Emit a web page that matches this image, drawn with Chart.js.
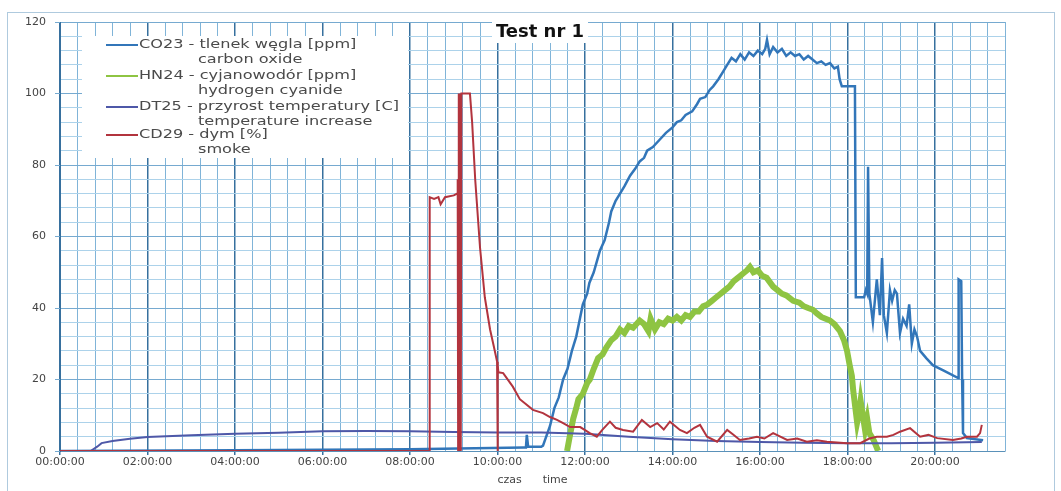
<!DOCTYPE html>
<html>
<head>
<meta charset="utf-8">
<script src="https://cdn.jsdelivr.net/npm/chart.js@4"></script>
<style>
  html, body { margin: 0; padding: 0; background: #fff; }
</style>
</head>
<body>
<canvas id="chart" width="1061" height="491"></canvas>
<script>
// Dane z wykresu: czas w godzinach
const chartTitle = "Test nr 1";
const seriesNames = ["CO23 - tlenek węgla [ppm]", "HN24 - cyjanowodór [ppm]", "DT25 - przyrost temperatury [C]", "CD29 - dym [%]"];
const seriesNamesEn = ["carbon oxide", "hydrogen cyanide", "temperature increase", "smoke"];
const seriesColors = ["rgb(50,118,185)", "rgb(142,196,66)", "rgb(78,88,168)", "rgb(178,52,62)"];
const xTitle = "czas      time";

// CO23 - tlenek węgla
const coSeries = [
  [0, 0], [4, 0.2], [8, 0.5], [10.6, 1], [10.65, 1], [10.67, 4.5], [10.7, 1.2], [11.0, 1.2], [11.04, 1.5],
  [11.2, 7], [11.3, 12], [11.4, 15], [11.5, 20], [11.6, 23], [11.7, 28], [11.8, 32], [11.95, 41], [12.05, 44],
  [12.1, 47], [12.2, 50], [12.34, 56], [12.45, 59], [12.55, 64], [12.6, 67], [12.7, 70], [12.8, 72], [12.9, 74],
  [13.03, 77], [13.15, 79], [13.25, 81], [13.35, 82], [13.42, 84], [13.55, 85], [13.7, 87], [13.85, 89], [14.0, 90.5],
  [14.1, 92], [14.2, 92.5], [14.3, 94], [14.45, 95], [14.56, 97], [14.63, 98.5], [14.75, 99], [14.85, 101], [14.93, 102],
  [15.05, 104], [15.15, 106], [15.25, 108], [15.35, 110], [15.45, 109], [15.55, 111], [15.65, 109.5], [15.75, 111.5],
  [15.85, 110.5], [15.95, 112], [16.05, 111], [16.12, 112.5], [16.16, 115], [16.22, 111], [16.3, 113], [16.4, 111.5],
  [16.5, 112.5], [16.6, 110.5], [16.7, 111.5], [16.8, 110.5], [16.9, 111], [17.0, 109.5], [17.1, 110.5], [17.2, 109.5],
  [17.3, 108.5], [17.4, 109], [17.5, 108], [17.6, 108.5], [17.7, 107], [17.78, 107.5], [17.82, 104], [17.87, 102],
  [18.17, 102], [18.19, 43], [18.38, 43], [18.42, 45], [18.45, 44], [18.47, 79.5], [18.5, 44], [18.58, 36], [18.67, 48],
  [18.74, 38], [18.79, 54], [18.83, 38], [18.9, 33], [18.97, 45], [19.02, 42], [19.08, 45], [19.13, 44], [19.2, 33],
  [19.27, 37], [19.35, 35], [19.41, 41], [19.47, 30], [19.53, 34], [19.59, 32], [19.66, 28], [19.8, 26], [19.95, 24],
  [20.2, 22.5], [20.53, 20.4], [20.54, 48], [20.6, 47.5], [20.62, 20], [20.64, 5], [20.73, 3.6], [21.1, 3]
];

// HN24 - cyjanowodór
const hnSeries = [
  [11.59, 0], [11.65, 4], [11.73, 9], [11.8, 12], [11.85, 14.5], [11.95, 16], [12.05, 19], [12.11, 20],
  [12.2, 23], [12.3, 26], [12.4, 27], [12.49, 29], [12.6, 31], [12.7, 32], [12.8, 34], [12.9, 33], [13.0, 35],
  [13.1, 34.5], [13.25, 36.5], [13.35, 35.5], [13.45, 33.5], [13.5, 37], [13.6, 34], [13.7, 36], [13.8, 35.5],
  [13.9, 37], [14.0, 36.5], [14.1, 37.5], [14.2, 36.5], [14.3, 38], [14.4, 37.5], [14.5, 39], [14.6, 39], [14.7, 40.5],
  [14.8, 41], [14.9, 42], [15.0, 43], [15.1, 44], [15.2, 45], [15.3, 46], [15.4, 47.5], [15.5, 48.5], [15.6, 49.5],
  [15.7, 50.5], [15.77, 51.5], [15.85, 50], [15.95, 50.5], [16.05, 49], [16.15, 48.5], [16.3, 46], [16.4, 45],
  [16.5, 44], [16.6, 43.5], [16.76, 42], [16.9, 41.5], [17.0, 40.5], [17.1, 40], [17.21, 39.5], [17.3, 38.5],
  [17.4, 37.5], [17.5, 37], [17.6, 36.5], [17.7, 35.5], [17.83, 33.5], [17.92, 31], [17.99, 28], [18.05, 24],
  [18.1, 21], [18.13, 17], [18.18, 12], [18.22, 8], [18.27, 11], [18.3, 14], [18.35, 10], [18.4, 6], [18.45, 9],
  [18.5, 5], [18.6, 3], [18.7, 0]
];

// DT25 - przyrost temperatury
const dtSeries = [
  [0, 0], [0.7, 0], [0.85, 1.2], [0.95, 2.2], [1.2, 2.8], [1.6, 3.4], [2.0, 3.9], [3.0, 4.4], [4.0, 4.8], [5.0, 5.1],
  [6.0, 5.5], [7.0, 5.6], [8.0, 5.5], [9.0, 5.3], [10.0, 5.2], [11.0, 5.2], [12.0, 4.8], [13.0, 4.0], [14.0, 3.3],
  [15.0, 2.8], [16.0, 2.5], [17.0, 2.3], [18.0, 2.2], [19.0, 2.2], [20.0, 2.3], [21.07, 2.5]
];

// CD29 - dym
const cdSeries = [
  [0, 0], [8.44, 0], [8.45, 71], [8.55, 70.5], [8.65, 71], [8.7, 69], [8.8, 71], [9.0, 71.5], [9.08, 72], [9.09, 76],
  [9.1, 0], [9.115, 100], [9.13, 0], [9.145, 100], [9.16, 0], [9.175, 100], [9.37, 100], [9.42, 92], [9.49, 76],
  [9.6, 57], [9.71, 43], [9.83, 34], [9.92, 29], [9.99, 25], [10.0, 0], [10.01, 24], [10.02, 22], [10.13, 21.8],
  [10.35, 18], [10.51, 14.5], [10.81, 11.5], [11.04, 10.6], [11.2, 9.5], [11.36, 8.7], [11.5, 7.8], [11.66, 6.7],
  [11.89, 6.7], [12.11, 5], [12.27, 4], [12.4, 6], [12.57, 8.2], [12.7, 6.5], [12.87, 5.9], [13.1, 5.4], [13.3, 8.7],
  [13.49, 6.7], [13.65, 7.8], [13.8, 6], [13.94, 8.2], [14.17, 5.9], [14.33, 5], [14.5, 6.5], [14.63, 7.3], [14.79, 4],
  [15.02, 2.6], [15.25, 5.9], [15.4, 4.5], [15.54, 3.1], [15.75, 3.5], [15.93, 4], [16.1, 3.5], [16.3, 5], [16.62, 3.1],
  [16.85, 3.5], [17.07, 2.6], [17.3, 3], [17.53, 2.6], [17.99, 2.2], [18.29, 2.2], [18.5, 3.5], [18.67, 4], [18.9, 4],
  [19.05, 4.5], [19.2, 5.4], [19.43, 6.4], [19.66, 4], [19.85, 4.5], [20.05, 3.6], [20.41, 3.1], [20.6, 3.5],
  [20.73, 4], [20.96, 4], [21.03, 5], [21.07, 7.3]
];

const toPoints = (arr) => arr.map((p) => ({ x: p[0], y: p[1] }));
const isMultiple = (v, step) => Math.abs(v / step - Math.round(v / step)) < 1e-6;

// ramka, tytuł i legenda rysowane na płótnie
const overlayPlugin = {
  id: "overlay",
  beforeDraw(chart) {
    const ctx = chart.ctx;
    ctx.save();
    ctx.fillStyle = "#fff";
    ctx.fillRect(0, 0, chart.width, chart.height);
    ctx.strokeStyle = "rgb(175,202,222)";
    ctx.lineWidth = 1;
    ctx.strokeRect(7.5, 12.5, 1047, 490);
    ctx.restore();
  },
  afterDraw(chart) {
    const ctx = chart.ctx;
    ctx.save();
    // tytuł
    ctx.fillStyle = "#fff";
    ctx.fillRect(492, 22, 96, 21);
    ctx.fillStyle = "#111";
    ctx.font = 'bold 18px "DejaVu Sans"';
    ctx.textAlign = "center";
    ctx.textBaseline = "middle";
    ctx.fillText(chartTitle, 540, 32);

    // legenda
    ctx.fillStyle = "#fff";
    ctx.fillRect(82, 36, 326, 122);
    const rowY = [45, 76, 107, 135];
    ctx.textAlign = "left";
    ctx.font = '13px "DejaVu Sans"';
    seriesNames.forEach((name, i) => {
      ctx.strokeStyle = seriesColors[i];
      ctx.lineWidth = 2;
      ctx.beginPath();
      ctx.moveTo(106, rowY[i]);
      ctx.lineTo(138, rowY[i]);
      ctx.stroke();
      ctx.fillStyle = "#4a4a4a";
      ctx.save();
      ctx.translate(139, rowY[i]);
      ctx.scale(1.24, 1);
      ctx.fillText(name, 0, 0);
      ctx.restore();
      ctx.save();
      ctx.translate(198, rowY[i] + 15);
      ctx.scale(1.24, 1);
      ctx.fillText(seriesNamesEn[i], 0, 0);
      ctx.restore();
    });
    ctx.restore();
  }
};

const makeDataset = (i, data, width, order) => ({
  label: seriesNames[i],
  data: toPoints(data),
  borderColor: seriesColors[i],
  backgroundColor: seriesColors[i],
  borderWidth: width,
  pointRadius: 0,
  tension: 0,
  fill: false,
  order: order
});

const grafico = new Chart(document.getElementById("chart"), {
  type: "line",
  data: {
    datasets: [
      makeDataset(0, coSeries, 2.5, 3),
      makeDataset(1, hnSeries, 6, 2),
      makeDataset(2, dtSeries, 2, 1),
      makeDataset(3, cdSeries, 2, 0)
    ]
  },
  options: {
    responsive: false,
    animation: false,
    devicePixelRatio: 1,
    layout: { padding: { left: 8, right: 56, top: 22, bottom: 4 } },
    plugins: {
      legend: { display: false },
      tooltip: { enabled: false },
      title: { display: false }
    },
    scales: {
      x: {
        type: "linear",
        min: 0,
        max: 21.6,
        afterFit: (scale) => { scale.height = 36; },
        ticks: {
          stepSize: 0.4,
          autoSkip: false,
          maxRotation: 0,
          padding: 1,
          color: "#444",
          font: { family: "DejaVu Sans", size: 11 },
          callback: (v) => isMultiple(v, 2) ? String(Math.round(v)).padStart(2, "0") + ":00:00" : ""
        },
        grid: {
          color: (c) => isMultiple(c.tick.value, 2) ? "rgb(55,112,158)" : "rgb(128,180,216)",
          lineWidth: (c) => isMultiple(c.tick.value, 2) ? 1.5 : 1,
          tickColor: (c) => isMultiple(c.tick.value, 2) ? "rgb(55,112,158)" : "rgba(0,0,0,0)",
          tickLength: 4
        },
        border: { color: "rgb(90,145,185)" },
        title: {
          display: true,
          text: xTitle,
          color: "#444",
          font: { family: "DejaVu Sans", size: 11 },
          padding: 0
        }
      },
      y: {
        min: 0,
        max: 120,
        afterFit: (scale) => { scale.width = 52; },
        ticks: {
          stepSize: 4,
          autoSkip: false,
          padding: 9,
          color: "#444",
          font: { family: "DejaVu Sans", size: 11 },
          callback: (v) => isMultiple(v, 20) ? v : ""
        },
        grid: {
          color: (c) => isMultiple(c.tick.value, 20) ? "rgb(118,170,208)" : "rgb(172,210,234)",
          tickColor: (c) => isMultiple(c.tick.value, 20) ? "rgb(118,170,208)" : "rgba(0,0,0,0)",
          tickLength: 5
        },
        border: { color: "rgb(55,112,158)" }
      }
    }
  },
  plugins: [overlayPlugin]
});
</script>
</body>
</html>
